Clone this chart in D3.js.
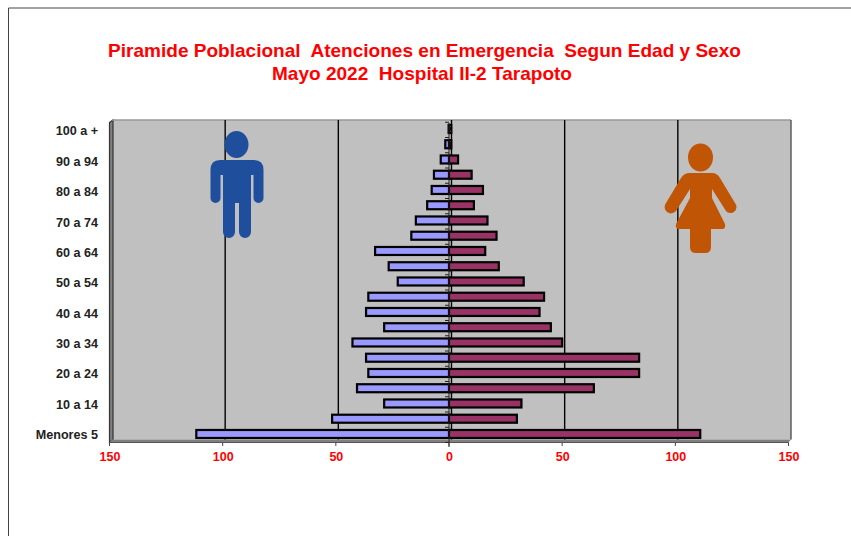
<!DOCTYPE html>
<html><head><meta charset="utf-8">
<script src="https://cdnjs.cloudflare.com/ajax/libs/d3/7.8.5/d3.min.js"></script>
<style>html,body{margin:0;padding:0;background:#fff}svg{display:block}text{font-family:"Liberation Sans",Arial,sans-serif;font-weight:bold}</style>
</head><body><svg id="c" width="851" height="536"></svg>
<script>
const titleLines = ["Piramide Poblacional  Atenciones en Emergencia  Segun Edad y Sexo", "Mayo 2022  Hospital II-2 Tarapoto"];
const ageGroups = ["Menores 5","5 a 9","10 a 14","15 a 19","20 a 24","25 a 29","30 a 34","35 a 39","40 a 44","45 a 49","50 a 54","55 a 59","60 a 64","65 a 69","70 a 74","75 a 79","80 a 84","85 a 89","90 a 94","95 a 99","100 a +"];
const men   = [112,52,29,41,36,37,43,29,37,36,23,27,33,17,15,10,8,7,4,2,0.5];
const women = [111,30,32,64,84,84,50,45,40,42,33,22,16,21,17,11,15,10,4,1,1];
const xTicks = [-150,-100,-50,0,50,100,150];

const svg = d3.select("#c");
const x = d3.scaleLinear().domain([-150,150]).range([109.5,788.5]);
const y = d3.scaleBand().domain(ageGroups).range([443,122.75]).padding(0);
const depth = 2.5;
const plot = {top:120, bottom:439.5, floor:442.5};
const xL = x(-150), xR = x(150);

// frame
svg.append("path").attr("d","M8.5,536V8H851").attr("fill","none").attr("stroke","#444").attr("stroke-width",1);

// title
svg.selectAll("text.title").data(titleLines).join("text").attr("class","title")
  .attr("x",(d,i)=>i?422:424.5).attr("y",(d,i)=>57+i*23).attr("text-anchor","middle")
  .attr("fill","#ff0000").attr("font-size",19.05).style("white-space","pre").text(d=>d);

// 3D plot box
svg.append("rect").attr("x",xL+depth).attr("y",plot.top).attr("width",xR-xL).attr("height",plot.bottom-plot.top).attr("fill","#c0c0c0");
svg.append("path").attr("d",`M${xL},${plot.top+2.5}L${xL+depth+1},${plot.top}V${plot.bottom}L${xL},${plot.floor}Z`).attr("fill","#808080").attr("stroke","#333").attr("stroke-width",1.2);
svg.append("path").attr("d",`M${xL},${plot.floor}L${xL+depth},${plot.bottom}H${xR+depth}L${xR},${plot.floor}Z`).attr("fill","#808080");
svg.append("line").attr("x1",xL).attr("x2",xR).attr("y1",plot.floor).attr("y2",plot.floor).attr("stroke","#555").attr("stroke-width",1.2);
svg.append("line").attr("x1",xL+depth).attr("x2",xR+depth).attr("y1",plot.top).attr("y2",plot.top).attr("stroke","#999").attr("stroke-width",1.4);
svg.append("line").attr("x1",xR+depth).attr("x2",xR+depth).attr("y1",plot.top).attr("y2",plot.bottom).attr("stroke","#555").attr("stroke-width",1.4);

// gridlines
svg.selectAll("line.grid").data(xTicks.filter(t=>Math.abs(t)<150)).join("line").attr("class","grid")
  .attr("x1",d=>x(d)+depth).attr("x2",d=>x(d)+depth).attr("y1",plot.top).attr("y2",plot.bottom)
  .attr("stroke","#000").attr("stroke-width",1.4);

// icons
const blue="#1f4e9c", orange="#c05505";
const man=svg.append("g").attr("fill",blue);
man.append("ellipse").attr("cx",236.5).attr("cy",144.5).attr("rx",12).attr("ry",13.5);
man.append("path").attr("d","M220,160H254Q263.5,160 263.5,170V198A5,5 0 0 1 253.5,198V175H251V232A6,6 0 0 1 239,232V203H235V232A6,6 0 0 1 223,232V175H220.5V198A5,5 0 0 1 210.5,198V170Q210.5,160 220,160Z");
const woman=svg.append("g").attr("fill",orange);
woman.append("ellipse").attr("cx",700.5).attr("cy",157.5).attr("rx",12.5).attr("ry",14);
woman.append("path").attr("d","M690,173H712Q717,173 720,178L735,203A5.5,5.5 0 0 1 726,211L712,189V198L725,224Q726,229 722,229H711V247Q711,253 705,253H696Q690,253 690,247V229H679Q675,229 676,224L690,198V189L676,211A5.5,5.5 0 0 1 666,203L681,178Q684,173 690,173Z");

// bars
const cy = d => y(d)+y.bandwidth()/2 - 1.4;
const barH = 8;
const menNudge = 0.8;
const g = svg.append("g").attr("stroke","#000").attr("stroke-width",2.2);
g.selectAll("rect.m").data(ageGroups).join("rect").attr("class","m")
  .attr("x",(d,i)=>x(-men[i])+menNudge).attr("width",(d,i)=>x(0)-x(-men[i]))
  .attr("y",d=>cy(d)-barH/2).attr("height",barH).attr("fill","#9999ff");
g.selectAll("rect.w").data(ageGroups).join("rect").attr("class","w")
  .attr("x",x(0)).attr("width",(d,i)=>x(women[i])-x(0))
  .attr("y",d=>cy(d)-barH/2).attr("height",barH).attr("fill","#993366");

// y axis at zero
svg.append("line").attr("x1",x(0)).attr("x2",x(0)).attr("y1",plot.top+3).attr("y2",447).attr("stroke","#222").attr("stroke-width",1);
svg.selectAll("line.yt").data(d3.range(ageGroups.length+1)).join("line").attr("class","yt")
  .attr("x1",x(0)-4).attr("x2",x(0)).attr("y1",i=>y.range()[0]-i*y.step()-0.5).attr("y2",i=>y.range()[0]-i*y.step()-0.5)
  .attr("stroke","#222").attr("stroke-width",1);

// x ticks
svg.selectAll("line.xt").data(xTicks).join("line").attr("class","xt")
  .attr("x1",d=>x(d)).attr("x2",d=>x(d)).attr("y1",plot.floor).attr("y2",446).attr("stroke","#444").attr("stroke-width",1);
svg.selectAll("text.xl").data(xTicks).join("text").attr("class","xl")
  .attr("x",d=>x(d)+0.5).attr("y",461).attr("text-anchor","middle").attr("fill","#ff0000").attr("font-size",12.5)
  .text(d=>Math.abs(d));

// y labels, every other group
const labelY = d3.scaleLinear().domain([0,20]).range([439.2,135.4]);
svg.selectAll("text.yl").data(ageGroups.filter((d,i)=>i%2===0)).join("text").attr("class","yl")
  .attr("x",98).attr("y",d=>labelY(ageGroups.indexOf(d))).attr("text-anchor","end").attr("fill","#222").attr("font-size",12.6)
  .text(d=>d);
</script></body></html>
